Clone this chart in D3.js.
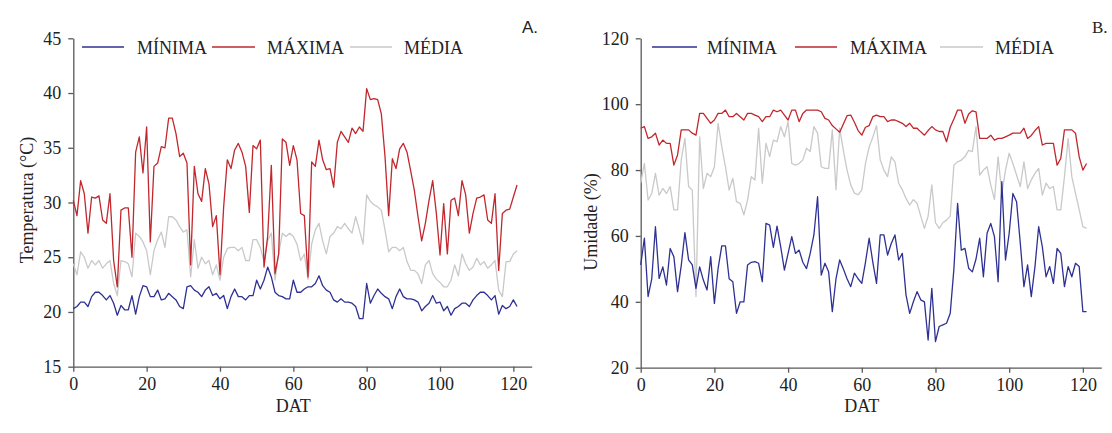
<!DOCTYPE html>
<html>
<head>
<meta charset="utf-8">
<script src="https://cdn.jsdelivr.net/npm/d3@7"></script>
<style>
  body { margin: 0; background: #fff; }
  svg { display: block; }
  text { font-family: "Liberation Serif", "Times New Roman", serif; fill: #222; }
</style>
</head>
<body>
<script>
// days after transplanting, 0..121
const days = d3.range(0, 122);
const xTicks = [0, 20, 40, 60, 80, 100, 120];
const seriesNames = ["MÍNIMA", "MÁXIMA", "MÉDIA"];
const seriesColors = ["#2e3192", "#c1272d", "#c9c9c9"];

// Panel A: temperatura (°C)
const tempTicks = [15, 20, 25, 30, 35, 40, 45];
const tempMin = [
  20.3,20.5,20.9,20.9,20.5,21.4,21.8,21.8,21.5,21.1,
  21.5,20.8,19.7,20.6,20.2,20.2,21.5,19.8,21.4,22.4,
  22.3,21.4,21.4,22.0,21.1,21.2,21.7,21.4,21.1,20.5,
  20.3,22.3,22.4,22.0,21.8,21.4,22.0,22.3,21.5,21.7,
  21.2,21.5,20.3,21.4,22.1,21.4,21.4,21.1,21.5,21.5,
  22.9,22.1,22.9,24.1,23.2,21.8,21.5,21.4,21.2,21.2,
  22.9,21.8,21.8,22.1,22.3,22.3,22.6,23.3,22.4,22.0,
  21.8,21.1,20.9,21.2,20.9,20.9,20.8,20.5,19.4,19.4,
  22.6,20.8,21.5,22.1,21.7,21.4,21.2,20.3,21.4,22.1,
  21.4,21.2,21.2,21.1,20.9,20.1,20.5,20.8,21.5,20.8,
  20.9,20.1,20.5,19.7,20.3,20.5,20.8,20.8,20.5,21.1,
  21.5,21.8,21.8,21.5,21.1,21.5,19.8,20.6,20.3,20.5,
  21.1,20.5
];
const tempMax = [
  30.2,28.8,32.0,30.8,27.2,30.5,30.4,30.6,28.4,28.1,
  30.8,24.7,22.3,29.3,29.5,29.5,25.0,34.6,36.0,32.7,
  36.9,26.4,33.3,33.6,35.1,35.0,37.7,37.7,36.3,34.2,
  34.5,33.6,24.3,33.3,30.8,30.1,33.1,31.7,27.8,28.8,
  23.4,29.6,33.9,33.1,34.8,35.4,34.6,33.3,29.1,35.2,
  34.9,35.7,24.1,26.9,33.4,23.5,25.3,35.8,35.5,33.4,
  35.2,33.9,29.0,28.8,23.2,33.7,33.3,35.7,33.9,33.0,
  33.1,31.4,35.5,36.5,36.0,35.5,36.8,36.3,36.9,36.5,
  40.4,39.4,39.5,39.4,38.1,34.2,28.8,34.0,33.1,34.9,
  35.4,34.6,32.9,31.1,28.7,26.5,28.1,30.2,32.0,29.0,
  25.2,29.9,25.3,30.2,30.4,28.8,32.0,30.7,27.2,29.0,
  30.4,30.5,30.7,28.4,28.1,30.8,23.8,29.0,29.3,29.4,
  30.5,31.6
];
const tempMean = [
  24.4,23.4,25.5,25.0,24.0,24.7,24.3,24.7,24.0,24.4,
  24.7,22.6,21.5,24.7,24.6,24.4,23.2,27.2,26.9,26.4,
  25.6,23.4,25.6,26.6,27.3,25.9,28.7,28.7,28.4,27.8,
  27.3,27.5,23.2,26.6,24.0,25.0,24.4,24.7,23.4,24.3,
  22.9,25.0,25.8,25.9,25.9,25.6,25.9,24.7,24.7,26.6,
  26.6,25.9,24.6,26.5,27.2,22.9,25.3,27.2,26.9,27.2,
  26.9,26.2,24.7,25.3,23.0,26.2,27.5,28.1,26.5,25.3,
  26.9,27.2,27.8,27.6,28.1,27.6,27.2,28.7,27.5,26.2,
  30.7,30.1,29.8,29.6,29.3,27.5,25.5,25.9,25.9,25.6,
  25.9,24.6,23.8,23.8,23.5,22.6,24.3,24.7,23.5,23.0,
  22.7,22.3,22.3,22.9,24.3,23.3,25.3,24.4,23.8,24.1,
  24.9,24.3,24.6,24.0,24.3,24.7,22.0,21.4,24.6,24.6,
  25.3,25.6
];

// Panel B: umidade (%)
const humTicks = [20, 40, 60, 80, 100, 120];
const humMin = [
  51.2,59.3,41.6,47.0,62.8,47.1,50.6,45.1,56.2,53.7,
  43.1,51.0,61.0,52.7,51.2,44.1,50.6,46.6,43.6,53.7,
  39.5,50.1,57.0,57.0,47.0,46.1,36.5,40.0,40.0,51.2,
  52.0,52.2,51.7,46.1,63.8,63.3,56.5,63.0,56.7,49.6,
  54.7,59.8,54.7,55.7,52.0,50.1,54.7,60.3,71.9,48.1,
  51.7,49.1,37.0,47.0,52.7,50.0,47.0,44.6,48.7,47.0,
  45.6,52.0,59.3,52.0,45.6,60.3,60.3,54.2,57.7,60.3,
  52.7,54.7,42.1,36.5,40.0,43.1,40.6,40.0,28.4,44.1,
  27.9,32.5,33.0,33.5,36.5,50.0,69.9,55.7,56.2,50.2,
  49.1,53.0,59.3,47.6,60.8,63.8,59.8,46.1,76.5,52.7,
  60.8,72.9,70.4,58.0,44.6,51.2,41.6,50.7,62.8,56.7,
  47.6,50.7,45.6,56.2,54.7,44.6,50.7,47.6,51.7,50.7,
  37.0,37.0
];
const humMax = [
  92.7,93.2,89.6,90.1,91.2,87.6,89.1,88.1,88.1,81.5,
  84.6,92.2,92.2,92.2,91.2,90.6,97.2,97.2,95.7,94.2,
  95.2,97.2,97.2,98.2,96.2,96.2,97.2,96.2,95.2,97.2,
  97.2,96.7,96.2,94.7,96.2,96.2,98.2,97.7,98.2,96.7,
  95.2,98.2,98.2,94.7,97.2,98.2,98.2,98.2,98.2,97.7,
  95.7,95.2,93.5,92.5,91.5,94.0,96.5,96.7,94.5,92.0,
  90.6,93.0,93.5,96.2,96.7,96.2,96.2,94.7,95.2,95.2,
  94.7,94.2,93.2,94.2,92.7,92.7,91.6,90.6,92.0,93.2,
  92.2,91.7,91.7,88.6,93.0,95.5,98.2,98.2,94.2,97.0,
  98.0,97.7,89.6,89.6,89.6,90.6,89.1,89.6,89.6,90.1,
  90.6,91.2,91.2,91.2,92.7,89.6,90.5,92.0,93.2,87.6,
  88.1,88.1,88.1,81.5,83.5,92.2,92.2,92.2,91.2,84.0,
  80.0,82.0
];
const humMean = [
  76.0,82.0,70.9,72.9,79.0,72.4,74.4,72.9,75.0,67.9,
  67.9,83.1,89.6,75.0,73.9,41.6,90.1,74.4,79.0,78.0,
  81.0,94.2,87.1,81.0,73.9,77.5,70.4,69.9,66.4,70.9,
  78.0,77.0,92.7,76.0,88.1,84.1,89.1,88.6,93.2,90.1,
  94.7,82.0,81.5,82.0,83.1,86.6,85.6,93.2,91.2,81.0,
  80.5,80.5,92.2,74.0,92.7,86.0,80.0,75.5,73.0,72.5,
  74.0,82.0,87.0,90.0,93.5,83.1,80.0,78.0,84.0,82.5,
  76.0,74.0,71.4,69.4,71.0,69.9,66.0,62.3,66.0,75.5,
  64.0,62.3,64.0,64.8,66.0,81.5,82.5,83.0,84.1,86.0,
  85.6,93.2,78.5,80.0,81.0,75.5,71.0,84.0,72.9,80.0,
  85.1,82.0,78.5,75.0,82.5,74.4,77.0,79.0,80.5,72.4,
  76.0,74.4,75.0,67.9,67.9,78.0,89.6,78.0,72.9,68.0,
  62.8,62.3
];

const width = 1112, height = 433;

const svg = d3.select("body").append("svg")
  .attr("width", width)
  .attr("height", height);

function drawPanel(opt) {
  const x = d3.scaleLinear().domain([0, 125]).range([opt.left, opt.right]);
  const y = d3.scaleLinear().domain(opt.yDomain).range([opt.bottom, opt.top]);
  const g = svg.append("g");

  const xAxis = g.append("g")
    .attr("transform", `translate(0,${opt.bottom})`)
    .call(d3.axisBottom(x).tickValues(xTicks).tickSize(5).tickSizeOuter(0).tickPadding(6));
  const yAxis = g.append("g")
    .attr("transform", `translate(${opt.left},0)`)
    .call(d3.axisLeft(y).tickValues(opt.yTicks).tickSize(5).tickSizeOuter(0).tickPadding(7));

  [xAxis, yAxis].forEach(a => {
    a.select(".domain").attr("stroke", "#595959").attr("stroke-width", 1.3);
    a.selectAll(".tick line").attr("stroke", "#595959").attr("stroke-width", 1.3);
    a.selectAll(".tick text")
      .attr("fill", "#222")
      .style("font-family", '"Liberation Serif", serif')
      .style("font-size", "18px");
  });

  // lines: min, max, mean (mean drawn first so the others sit on top)
  const line = d3.line().x((d, i) => x(days[i])).y(d => y(d));
  [2, 1, 0].forEach(k => {
    g.append("path")
      .datum(opt.series[k])
      .attr("fill", "none")
      .attr("stroke", seriesColors[k])
      .attr("stroke-width", 1.3)
      .attr("stroke-linejoin", "round")
      .attr("d", line);
  });

  // legend
  opt.legend.forEach((lx, k) => {
    g.append("line")
      .attr("x1", lx[0]).attr("x2", lx[1])
      .attr("y1", 47).attr("y2", 47)
      .attr("stroke", seriesColors[k])
      .attr("stroke-width", 1.3);
    g.append("text")
      .attr("x", lx[2]).attr("y", 54)
      .style("font-size", "18px")
      .text(seriesNames[k]);
  });

  g.append("text")
    .attr("transform", `translate(${opt.titleX},${opt.titleY}) rotate(-90)`)
    .attr("text-anchor", "middle")
    .style("font-size", "18px")
    .text(opt.yLabel);

  g.append("text")
    .attr("x", x(60)).attr("y", 412)
    .attr("text-anchor", "middle")
    .style("font-size", "18px")
    .text("DAT");

  g.append("text")
    .attr("x", opt.tagX).attr("y", 33)
    .style("font-family", opt.tagFont)
    .style("font-size", "17px")
    .text(opt.tag);
}

drawPanel({
  left: 73.3, right: 531.7, top: 38.3, bottom: 366.7,
  yDomain: [15, 45], yTicks: tempTicks,
  series: [tempMin, tempMax, tempMean],
  legend: [[82, 124, 137], [212, 255, 267], [350, 392, 404]],
  yLabel: "Temperatura (°C)", titleX: 33, titleY: 200,
  tag: "A.", tagX: 522, tagFont: '"Liberation Sans", sans-serif'
});

drawPanel({
  left: 640.7, right: 1101.3, top: 38.3, bottom: 367.7,
  yDomain: [20, 120], yTicks: humTicks,
  series: [humMin, humMax, humMean],
  legend: [[652, 697, 707], [795, 837, 850], [940, 983, 995]],
  yLabel: "Umidade (%)", titleX: 597, titleY: 222,
  tag: "B.", tagX: 1092, tagFont: '"Liberation Serif", serif'
});
</script>
</body>
</html>
